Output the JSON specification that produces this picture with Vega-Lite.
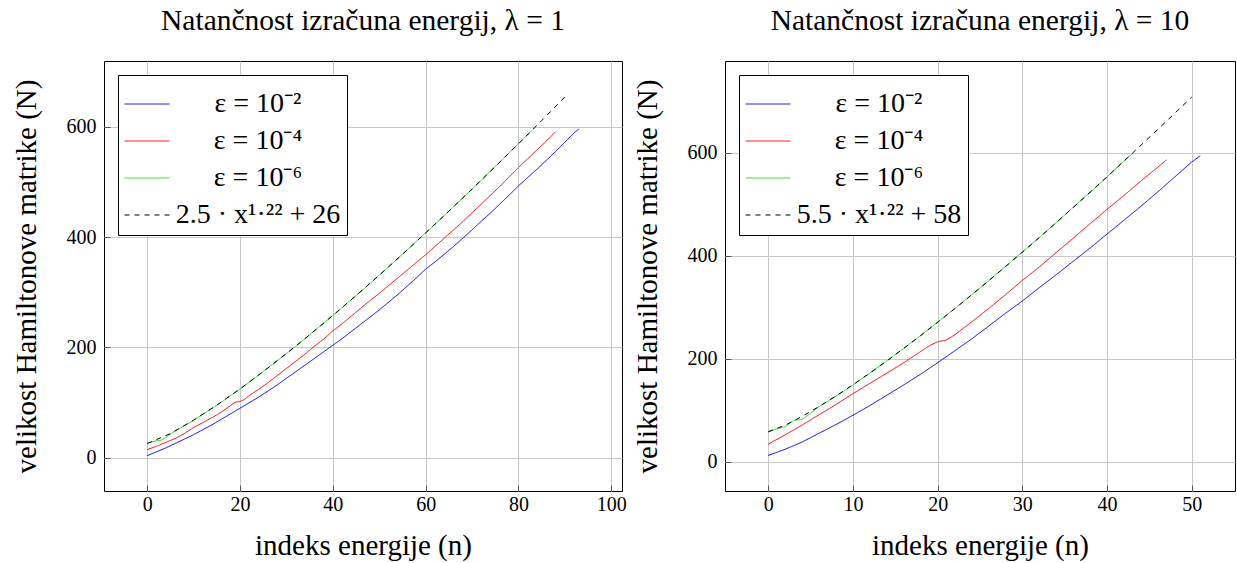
{
  "$schema": "https://vega.github.io/schema/vega-lite/v6.json",
  "padding": {"left": 11, "top": 5, "right": 0, "bottom": 0},
  "config": {
    "font": "Liberation Serif",
    "view": {"stroke": "black", "strokeWidth": 1},
    "axis": {"grid": true, "gridColor": "#c8c8c8", "gridWidth": 1, "domain": false, "ticks": true, "tickSize": -6, "tickColor": "#555555", "tickWidth": 1, "labelFontSize": 20, "labelColor": "black", "titleFontSize": 29, "titleFontWeight": "normal", "titleColor": "black", "labelFont": "Liberation Serif", "titleFont": "Liberation Serif"},
    "axisX": {"titlePadding": 17, "labelPadding": 9},
    "axisY": {"titlePadding": 25, "labelPadding": 14},
    "title": {"fontSize": 29.5, "fontWeight": "normal", "offset": 25, "anchor": "middle", "font": "Liberation Serif", "color": "black"},
    "legend": {"orient": "top-left", "offset": 14, "fillColor": "white", "strokeColor": "black", "padding": 6, "symbolSize": 2025, "labelFontSize": 28, "labelColor": "black", "labelAlign": "center", "labelOffset": 88, "rowPadding": -2, "labelLimit": 0, "labelFont": "Liberation Serif"},
    "line": {"strokeWidth": 1}
  },
  "datasets": {
    "left": [
      {"n":0,"N":4,"s":"ε = 10⁻²"},{"n":2,"N":11,"s":"ε = 10⁻²"},{"n":4,"N":18,"s":"ε = 10⁻²"},{"n":6,"N":26,"s":"ε = 10⁻²"},{"n":8,"N":34,"s":"ε = 10⁻²"},{"n":10,"N":42,"s":"ε = 10⁻²"},{"n":12,"N":51,"s":"ε = 10⁻²"},{"n":14,"N":60,"s":"ε = 10⁻²"},{"n":16,"N":70,"s":"ε = 10⁻²"},{"n":18,"N":80,"s":"ε = 10⁻²"},{"n":20,"N":90,"s":"ε = 10⁻²"},{"n":22,"N":100,"s":"ε = 10⁻²"},{"n":24,"N":110,"s":"ε = 10⁻²"},{"n":26,"N":121,"s":"ε = 10⁻²"},{"n":28,"N":132,"s":"ε = 10⁻²"},{"n":30,"N":144,"s":"ε = 10⁻²"},{"n":32,"N":156,"s":"ε = 10⁻²"},{"n":34,"N":168,"s":"ε = 10⁻²"},{"n":36,"N":180,"s":"ε = 10⁻²"},{"n":38,"N":192,"s":"ε = 10⁻²"},{"n":40,"N":204,"s":"ε = 10⁻²"},{"n":42,"N":216,"s":"ε = 10⁻²"},{"n":44,"N":229,"s":"ε = 10⁻²"},{"n":46,"N":242,"s":"ε = 10⁻²"},{"n":48,"N":255,"s":"ε = 10⁻²"},{"n":50,"N":268,"s":"ε = 10⁻²"},{"n":52,"N":282,"s":"ε = 10⁻²"},{"n":54,"N":296,"s":"ε = 10⁻²"},{"n":56,"N":311,"s":"ε = 10⁻²"},{"n":58,"N":326,"s":"ε = 10⁻²"},{"n":60,"N":342,"s":"ε = 10⁻²"},{"n":62,"N":355,"s":"ε = 10⁻²"},{"n":64,"N":369,"s":"ε = 10⁻²"},{"n":66,"N":383,"s":"ε = 10⁻²"},{"n":68,"N":398,"s":"ε = 10⁻²"},{"n":70,"N":413,"s":"ε = 10⁻²"},{"n":72,"N":429,"s":"ε = 10⁻²"},{"n":74,"N":444,"s":"ε = 10⁻²"},{"n":76,"N":460,"s":"ε = 10⁻²"},{"n":78,"N":476,"s":"ε = 10⁻²"},{"n":80,"N":493,"s":"ε = 10⁻²"},{"n":82,"N":508,"s":"ε = 10⁻²"},{"n":84,"N":523,"s":"ε = 10⁻²"},{"n":86,"N":539,"s":"ε = 10⁻²"},{"n":88,"N":555,"s":"ε = 10⁻²"},{"n":90,"N":572,"s":"ε = 10⁻²"},{"n":92,"N":589,"s":"ε = 10⁻²"},{"n":93,"N":596,"s":"ε = 10⁻²"},
      {"n":0,"N":15,"s":"ε = 10⁻⁴"},{"n":2,"N":21,"s":"ε = 10⁻⁴"},{"n":4,"N":28,"s":"ε = 10⁻⁴"},{"n":6,"N":35,"s":"ε = 10⁻⁴"},{"n":8,"N":44,"s":"ε = 10⁻⁴"},{"n":10,"N":55,"s":"ε = 10⁻⁴"},{"n":12,"N":64,"s":"ε = 10⁻⁴"},{"n":14,"N":73,"s":"ε = 10⁻⁴"},{"n":16,"N":83,"s":"ε = 10⁻⁴"},{"n":18,"N":95,"s":"ε = 10⁻⁴"},{"n":19,"N":101,"s":"ε = 10⁻⁴"},{"n":20,"N":102,"s":"ε = 10⁻⁴"},{"n":21,"N":106,"s":"ε = 10⁻⁴"},{"n":22,"N":113,"s":"ε = 10⁻⁴"},{"n":24,"N":124,"s":"ε = 10⁻⁴"},{"n":26,"N":136,"s":"ε = 10⁻⁴"},{"n":28,"N":149,"s":"ε = 10⁻⁴"},{"n":30,"N":162,"s":"ε = 10⁻⁴"},{"n":32,"N":175,"s":"ε = 10⁻⁴"},{"n":34,"N":188,"s":"ε = 10⁻⁴"},{"n":36,"N":202,"s":"ε = 10⁻⁴"},{"n":38,"N":215,"s":"ε = 10⁻⁴"},{"n":40,"N":230,"s":"ε = 10⁻⁴"},{"n":42,"N":243,"s":"ε = 10⁻⁴"},{"n":44,"N":257,"s":"ε = 10⁻⁴"},{"n":46,"N":271,"s":"ε = 10⁻⁴"},{"n":48,"N":285,"s":"ε = 10⁻⁴"},{"n":50,"N":298,"s":"ε = 10⁻⁴"},{"n":52,"N":312,"s":"ε = 10⁻⁴"},{"n":54,"N":326,"s":"ε = 10⁻⁴"},{"n":56,"N":340,"s":"ε = 10⁻⁴"},{"n":58,"N":354,"s":"ε = 10⁻⁴"},{"n":60,"N":368,"s":"ε = 10⁻⁴"},{"n":62,"N":383,"s":"ε = 10⁻⁴"},{"n":64,"N":398,"s":"ε = 10⁻⁴"},{"n":66,"N":413,"s":"ε = 10⁻⁴"},{"n":68,"N":428,"s":"ε = 10⁻⁴"},{"n":70,"N":444,"s":"ε = 10⁻⁴"},{"n":72,"N":460,"s":"ε = 10⁻⁴"},{"n":74,"N":476,"s":"ε = 10⁻⁴"},{"n":76,"N":492,"s":"ε = 10⁻⁴"},{"n":78,"N":509,"s":"ε = 10⁻⁴"},{"n":80,"N":526,"s":"ε = 10⁻⁴"},{"n":82,"N":542,"s":"ε = 10⁻⁴"},{"n":84,"N":558,"s":"ε = 10⁻⁴"},{"n":86,"N":574,"s":"ε = 10⁻⁴"},{"n":88,"N":591,"s":"ε = 10⁻⁴"},
      {"n":0,"N":27,"s":"ε = 10⁻⁶"},{"n":1,"N":29,"s":"ε = 10⁻⁶"},{"n":2,"N":31,"s":"ε = 10⁻⁶"},{"n":3,"N":32,"s":"ε = 10⁻⁶"},{"n":4,"N":37,"s":"ε = 10⁻⁶"},{"n":5,"N":43,"s":"ε = 10⁻⁶"},{"n":6,"N":48.5,"s":"ε = 10⁻⁶"},{"n":8,"N":58,"s":"ε = 10⁻⁶"},{"n":10,"N":68,"s":"ε = 10⁻⁶"},{"n":12,"N":79,"s":"ε = 10⁻⁶"},{"n":14,"N":90,"s":"ε = 10⁻⁶"},{"n":16,"N":101,"s":"ε = 10⁻⁶"},{"n":18,"N":113,"s":"ε = 10⁻⁶"},{"n":20,"N":125,"s":"ε = 10⁻⁶"},{"n":22,"N":137,"s":"ε = 10⁻⁶"},{"n":24,"N":150,"s":"ε = 10⁻⁶"},{"n":26,"N":163,"s":"ε = 10⁻⁶"},{"n":28,"N":176,"s":"ε = 10⁻⁶"},{"n":30,"N":189,"s":"ε = 10⁻⁶"},{"n":32,"N":202,"s":"ε = 10⁻⁶"},{"n":34,"N":216,"s":"ε = 10⁻⁶"},{"n":36,"N":230,"s":"ε = 10⁻⁶"},{"n":38,"N":244,"s":"ε = 10⁻⁶"},{"n":40,"N":258,"s":"ε = 10⁻⁶"},{"n":42,"N":272,"s":"ε = 10⁻⁶"},{"n":44,"N":287,"s":"ε = 10⁻⁶"},{"n":46,"N":301,"s":"ε = 10⁻⁶"},{"n":48,"N":316,"s":"ε = 10⁻⁶"},{"n":50,"N":331,"s":"ε = 10⁻⁶"},{"n":52,"N":346,"s":"ε = 10⁻⁶"},{"n":54,"N":361,"s":"ε = 10⁻⁶"},{"n":56,"N":377,"s":"ε = 10⁻⁶"},{"n":58,"N":392,"s":"ε = 10⁻⁶"},{"n":60,"N":408,"s":"ε = 10⁻⁶"},{"n":62,"N":423,"s":"ε = 10⁻⁶"},{"n":64,"N":439,"s":"ε = 10⁻⁶"},{"n":66,"N":455,"s":"ε = 10⁻⁶"},{"n":68,"N":471,"s":"ε = 10⁻⁶"},{"n":70,"N":487,"s":"ε = 10⁻⁶"},{"n":72,"N":503,"s":"ε = 10⁻⁶"},{"n":74,"N":520,"s":"ε = 10⁻⁶"},{"n":76,"N":536,"s":"ε = 10⁻⁶"},{"n":78,"N":553,"s":"ε = 10⁻⁶"},{"n":80,"N":569,"s":"ε = 10⁻⁶"},{"n":82,"N":586,"s":"ε = 10⁻⁶"},{"n":83,"N":594,"s":"ε = 10⁻⁶"},
      {"n":0,"N":26,"s":"2.5 · x¹·²² + 26"},{"n":5,"N":44,"s":"2.5 · x¹·²² + 26"},{"n":10,"N":68.3,"s":"2.5 · x¹·²² + 26"},{"n":15,"N":95.5,"s":"2.5 · x¹·²² + 26"},{"n":20,"N":125,"s":"2.5 · x¹·²² + 26"},{"n":25,"N":156.3,"s":"2.5 · x¹·²² + 26"},{"n":30,"N":189,"s":"2.5 · x¹·²² + 26"},{"n":35,"N":222.9,"s":"2.5 · x¹·²² + 26"},{"n":40,"N":258,"s":"2.5 · x¹·²² + 26"},{"n":45,"N":294,"s":"2.5 · x¹·²² + 26"},{"n":50,"N":331,"s":"2.5 · x¹·²² + 26"},{"n":55,"N":368.8,"s":"2.5 · x¹·²² + 26"},{"n":60,"N":407.5,"s":"2.5 · x¹·²² + 26"},{"n":65,"N":447,"s":"2.5 · x¹·²² + 26"},{"n":70,"N":487,"s":"2.5 · x¹·²² + 26"},{"n":75,"N":527.8,"s":"2.5 · x¹·²² + 26"},{"n":80,"N":569,"s":"2.5 · x¹·²² + 26"},{"n":85,"N":611,"s":"2.5 · x¹·²² + 26"},{"n":90,"N":654,"s":"2.5 · x¹·²² + 26"}
    ],
    "right": [
      {"n":0,"N":12,"s":"ε = 10⁻²"},{"n":2,"N":24,"s":"ε = 10⁻²"},{"n":4,"N":38,"s":"ε = 10⁻²"},{"n":6,"N":55,"s":"ε = 10⁻²"},{"n":8,"N":72,"s":"ε = 10⁻²"},{"n":10,"N":90,"s":"ε = 10⁻²"},{"n":12,"N":109,"s":"ε = 10⁻²"},{"n":14,"N":129,"s":"ε = 10⁻²"},{"n":16,"N":149,"s":"ε = 10⁻²"},{"n":18,"N":170,"s":"ε = 10⁻²"},{"n":20,"N":192,"s":"ε = 10⁻²"},{"n":22,"N":215,"s":"ε = 10⁻²"},{"n":24,"N":238,"s":"ε = 10⁻²"},{"n":26,"N":263,"s":"ε = 10⁻²"},{"n":28,"N":288,"s":"ε = 10⁻²"},{"n":30,"N":312,"s":"ε = 10⁻²"},{"n":32,"N":338,"s":"ε = 10⁻²"},{"n":34,"N":363,"s":"ε = 10⁻²"},{"n":36,"N":389,"s":"ε = 10⁻²"},{"n":38,"N":415,"s":"ε = 10⁻²"},{"n":40,"N":442,"s":"ε = 10⁻²"},{"n":42,"N":469,"s":"ε = 10⁻²"},{"n":44,"N":496,"s":"ε = 10⁻²"},{"n":46,"N":524,"s":"ε = 10⁻²"},{"n":48,"N":553,"s":"ε = 10⁻²"},{"n":50,"N":582,"s":"ε = 10⁻²"},{"n":51,"N":594,"s":"ε = 10⁻²"},
      {"n":0,"N":34,"s":"ε = 10⁻⁴"},{"n":2,"N":52,"s":"ε = 10⁻⁴"},{"n":4,"N":71,"s":"ε = 10⁻⁴"},{"n":6,"N":91,"s":"ε = 10⁻⁴"},{"n":8,"N":111,"s":"ε = 10⁻⁴"},{"n":10,"N":132,"s":"ε = 10⁻⁴"},{"n":12,"N":152,"s":"ε = 10⁻⁴"},{"n":14,"N":172,"s":"ε = 10⁻⁴"},{"n":16,"N":192,"s":"ε = 10⁻⁴"},{"n":18,"N":214,"s":"ε = 10⁻⁴"},{"n":19,"N":225,"s":"ε = 10⁻⁴"},{"n":20,"N":233,"s":"ε = 10⁻⁴"},{"n":21,"N":236,"s":"ε = 10⁻⁴"},{"n":22,"N":246,"s":"ε = 10⁻⁴"},{"n":24,"N":271,"s":"ε = 10⁻⁴"},{"n":26,"N":297,"s":"ε = 10⁻⁴"},{"n":28,"N":324,"s":"ε = 10⁻⁴"},{"n":30,"N":352,"s":"ε = 10⁻⁴"},{"n":32,"N":378,"s":"ε = 10⁻⁴"},{"n":34,"N":406,"s":"ε = 10⁻⁴"},{"n":36,"N":434,"s":"ε = 10⁻⁴"},{"n":38,"N":462,"s":"ε = 10⁻⁴"},{"n":40,"N":490,"s":"ε = 10⁻⁴"},{"n":42,"N":517,"s":"ε = 10⁻⁴"},{"n":44,"N":545,"s":"ε = 10⁻⁴"},{"n":46,"N":572,"s":"ε = 10⁻⁴"},{"n":47,"N":586,"s":"ε = 10⁻⁴"},
      {"n":0,"N":58,"s":"ε = 10⁻⁶"},{"n":1,"N":63,"s":"ε = 10⁻⁶"},{"n":2,"N":68,"s":"ε = 10⁻⁶"},{"n":3,"N":80,"s":"ε = 10⁻⁶"},{"n":4,"N":82,"s":"ε = 10⁻⁶"},{"n":5,"N":94,"s":"ε = 10⁻⁶"},{"n":6,"N":107,"s":"ε = 10⁻⁶"},{"n":8,"N":127,"s":"ε = 10⁻⁶"},{"n":10,"N":149,"s":"ε = 10⁻⁶"},{"n":12,"N":172,"s":"ε = 10⁻⁶"},{"n":14,"N":196,"s":"ε = 10⁻⁶"},{"n":16,"N":220,"s":"ε = 10⁻⁶"},{"n":18,"N":245,"s":"ε = 10⁻⁶"},{"n":20,"N":271,"s":"ε = 10⁻⁶"},{"n":22,"N":297,"s":"ε = 10⁻⁶"},{"n":24,"N":324,"s":"ε = 10⁻⁶"},{"n":26,"N":351,"s":"ε = 10⁻⁶"},{"n":28,"N":379,"s":"ε = 10⁻⁶"},{"n":30,"N":407,"s":"ε = 10⁻⁶"},{"n":32,"N":435,"s":"ε = 10⁻⁶"},{"n":34,"N":464,"s":"ε = 10⁻⁶"},{"n":36,"N":494,"s":"ε = 10⁻⁶"},{"n":38,"N":523,"s":"ε = 10⁻⁶"},{"n":40,"N":553,"s":"ε = 10⁻⁶"},{"n":42,"N":584,"s":"ε = 10⁻⁶"},{"n":43,"N":598,"s":"ε = 10⁻⁶"},
      {"n":0,"N":58,"s":"5.5 · x¹·²² + 58"},{"n":2,"N":70.8,"s":"5.5 · x¹·²² + 58"},{"n":4,"N":87.9,"s":"5.5 · x¹·²² + 58"},{"n":6,"N":107,"s":"5.5 · x¹·²² + 58"},{"n":8,"N":127.5,"s":"5.5 · x¹·²² + 58"},{"n":10,"N":149.3,"s":"5.5 · x¹·²² + 58"},{"n":12,"N":172,"s":"5.5 · x¹·²² + 58"},{"n":14,"N":195.6,"s":"5.5 · x¹·²² + 58"},{"n":16,"N":220,"s":"5.5 · x¹·²² + 58"},{"n":18,"N":245,"s":"5.5 · x¹·²² + 58"},{"n":20,"N":270.6,"s":"5.5 · x¹·²² + 58"},{"n":22,"N":296.7,"s":"5.5 · x¹·²² + 58"},{"n":24,"N":323.6,"s":"5.5 · x¹·²² + 58"},{"n":26,"N":350.8,"s":"5.5 · x¹·²² + 58"},{"n":28,"N":378.6,"s":"5.5 · x¹·²² + 58"},{"n":30,"N":406.8,"s":"5.5 · x¹·²² + 58"},{"n":32,"N":435.2,"s":"5.5 · x¹·²² + 58"},{"n":34,"N":464.3,"s":"5.5 · x¹·²² + 58"},{"n":36,"N":493.6,"s":"5.5 · x¹·²² + 58"},{"n":38,"N":523.3,"s":"5.5 · x¹·²² + 58"},{"n":40,"N":553,"s":"5.5 · x¹·²² + 58"},{"n":42,"N":583.8,"s":"5.5 · x¹·²² + 58"},{"n":44,"N":614.5,"s":"5.5 · x¹·²² + 58"},{"n":46,"N":645.4,"s":"5.5 · x¹·²² + 58"},{"n":48,"N":676.7,"s":"5.5 · x¹·²² + 58"},{"n":50,"N":708,"s":"5.5 · x¹·²² + 58"}
    ]
  },
  "spacing": 103,
  "bounds": "flush",
  "resolve": {"scale": {"color": "independent", "strokeDash": "independent"}},
  "hconcat": [
    {
      "title": "Natančnost izračuna energij, λ = 1",
      "width": 518,
      "height": 430,
      "data": {"name": "left"},
      "mark": {"type": "line", "strokeWidth": 1},
      "encoding": {
        "x": {"field": "n", "type": "quantitative", "scale": {"domain": [-9.3, 102.3], "nice": false, "zero": false}, "axis": {"values": [0, 20, 40, 60, 80, 100], "title": "indeks energije (n)"}},
        "y": {"field": "N", "type": "quantitative", "scale": {"domain": [-60, 719], "nice": false, "zero": false}, "axis": {"values": [0, 200, 400, 600], "title": "velikost Hamiltonove matrike (N)"}},
        "color": {"field": "s", "type": "nominal", "scale": {"domain": ["ε = 10⁻²", "ε = 10⁻⁴", "ε = 10⁻⁶", "2.5 · x¹·²² + 26"], "range": ["#0000ff", "#ff0000", "#22dd22", "#000000"]}, "legend": {"title": null}},
        "strokeDash": {"field": "s", "type": "nominal", "scale": {"domain": ["ε = 10⁻²", "ε = 10⁻⁴", "ε = 10⁻⁶", "2.5 · x¹·²² + 26"], "range": [[1, 0], [1, 0], [1, 0], [5, 5]]}, "legend": {"title": null}}
      }
    },
    {
      "title": "Natančnost izračuna energij, λ = 10",
      "width": 510,
      "height": 430,
      "data": {"name": "right"},
      "mark": {"type": "line", "strokeWidth": 1},
      "encoding": {
        "x": {"field": "n", "type": "quantitative", "scale": {"domain": [-5.1, 55.1], "nice": false, "zero": false}, "axis": {"values": [0, 10, 20, 30, 40, 50], "title": "indeks energije (n)"}},
        "y": {"field": "N", "type": "quantitative", "scale": {"domain": [-57, 778], "nice": false, "zero": false}, "axis": {"values": [0, 200, 400, 600], "title": "velikost Hamiltonove matrike (N)"}},
        "color": {"field": "s", "type": "nominal", "scale": {"domain": ["ε = 10⁻²", "ε = 10⁻⁴", "ε = 10⁻⁶", "5.5 · x¹·²² + 58"], "range": ["#0000ff", "#ff0000", "#22dd22", "#000000"]}, "legend": {"title": null}},
        "strokeDash": {"field": "s", "type": "nominal", "scale": {"domain": ["ε = 10⁻²", "ε = 10⁻⁴", "ε = 10⁻⁶", "5.5 · x¹·²² + 58"], "range": [[1, 0], [1, 0], [1, 0], [5, 5]]}, "legend": {"title": null}}
      }
    }
  ]
}
